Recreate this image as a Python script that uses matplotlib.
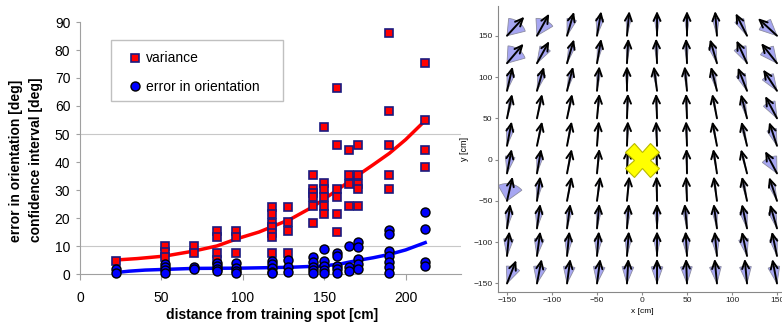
import numpy as np
import matplotlib
matplotlib.use("Agg")
import matplotlib.pyplot as plt
from matplotlib.patches import Wedge, Rectangle
from matplotlib.lines import Line2D

plt.rcParams['font.family'] = ['Liberation Sans', 'DejaVu Sans']

# %% left panel data
distances = [22, 52, 70, 84, 96, 118, 128, 143, 150, 158, 165, 171, 190, 212]

variance = [
    [4.5],
    [10.0, 7.8, 6.2],
    [10.0, 7.6],
    [15.2, 13.2, 7.4, 5.0],
    [15.2, 13.2, 7.4],
    [24.0, 21.4, 18.1, 16.7, 14.8, 13.3, 7.4],
    [24.0, 18.5, 15.5, 7.4],
    [35.4, 30.5, 28.8, 27.4, 24.3, 18.1],
    [52.4, 32.4, 30.4, 27.5, 24.2, 21.3],
    [66.3, 46.1, 30.2, 27.6, 21.3, 15.1],
    [44.3, 35.4, 32.2, 24.3],
    [46.1, 35.4, 32.2, 30.4, 24.3],
    [86.0, 58.3, 46.1, 35.4, 30.2],
    [75.2, 55.0, 44.3, 38.1],
]

orient_err = [
    [1.7, 0.4],
    [3.6, 2.5, 1.3, 0.3],
    [2.4, 1.8],
    [4.0, 3.0, 1.8, 1.0],
    [3.8, 2.2, 1.0, 0.3],
    [4.8, 3.6, 2.2, 0.8, 0.3],
    [5.0, 2.4, 0.8],
    [6.2, 4.4, 2.6, 1.4, 0.4],
    [8.8, 4.8, 3.0, 1.5, 0.2],
    [7.6, 6.4, 3.0, 1.8, 0.4],
    [10.0, 2.4, 1.2],
    [11.5, 9.5, 5.2, 3.6, 1.7],
    [15.7, 14.3, 8.3, 6.4, 4.4, 2.4, 0.3],
    [22.3, 16.0, 4.4, 2.9],
]

var_fit_x = [22, 35, 52, 70, 84, 97, 110, 118, 129, 143, 158, 171, 180, 190, 200, 212]
var_fit_y = [5.0, 5.5, 6.4, 8.2, 10.0, 12.7, 15.0, 16.9, 19.5, 24.0, 30.0, 35.4, 39.0, 43.1, 48.0, 54.8]

err_fit_x = [22, 30, 40, 55, 70, 100, 129, 150, 160, 170, 180, 190, 200, 212]
err_fit_y = [0.5, 1.0, 1.4, 1.7, 2.0, 2.1, 2.4, 2.9, 3.6, 4.8, 5.8, 7.0, 8.6, 11.2]

# %% right panel data: heading (deg from north, clockwise +) and half width of confidence sector
grid_x = [-150, -116.7, -83.3, -50, -16.7, 16.7, 50, 83.3, 116.7, 150]
grid_y = [150, 116.7, 83.3, 50, 16.7, -16.7, -50, -83.3, -116.7, -150]

heading = [
    [40, 27, 15, 9, 5, 0, 0, -4, -25, -45],
    [38, 27, 15, 9, 3, -2, -2, -15, -23, -36],
    [12, 15, 13, 5, 0, -7, -5, -13, -20, -31],
    [11, 11, 11, 5, 2, -2, -2, -10, -13, -26],
    [10, 11, 10, 4, 2, -2, -2, -10, -12, -17],
    [10, 9, 10, 5, 2, -1, -1, -8, -13, -26],
    [12, 7, 10, 7, 5, -1, -2, -7, -11, -17],
    [7, 7, 7, 5, 4, 0, -5, -7, -11, -15],
    [5, 7, 5, 4, 4, 0, -3, -5, -11, -11],
    [20, 10, 7, 7, 3, 0, -2, -5, -5, -10],
]

conf_half = [
    [35, 30, 15, 12, 8, 8, 7, 10, 15, 25],
    [35, 18, 10, 8, 6, 6, 6, 12, 20, 25],
    [12, 12, 8, 6, 5, 5, 5, 8, 15, 20],
    [5, 3, 3, 3, 3, 3, 3, 3, 8, 20],
    [12, 3, 3, 3, 3, 3, 3, 3, 5, 15],
    [15, 10, 3, 3, 3, 3, 3, 3, 3, 25],
    [40, 10, 3, 3, 3, 3, 3, 3, 5, 10],
    [12, 12, 8, 8, 8, 8, 8, 8, 12, 12],
    [15, 15, 12, 12, 10, 10, 12, 12, 15, 12],
    [22, 20, 18, 18, 18, 18, 18, 18, 18, 18],
]

goal = (0, 0)

W, H = 782, 327
fig = plt.figure(figsize=(W / 100, H / 100), dpi=100)

# %% left panel
ax = fig.add_axes([80 / W, 53 / H, (461 - 80) / W, 252 / H])
ax.set_xlim(0, 234)
ax.set_ylim(0, 90)
for spine in ['top', 'right']:
    ax.spines[spine].set_visible(False)
for spine in ['left', 'bottom']:
    ax.spines[spine].set_color('#a0a0a0')
ax.set_xticks([0, 50, 100, 150, 200])
ax.set_yticks(range(0, 91, 10))
ax.tick_params(axis='y', length=3, pad=4, color='#a0a0a0', labelsize=10)
ax.tick_params(axis='x', length=4, pad=8, color='#a0a0a0', labelsize=10)
for g in [10, 50]:
    ax.axhline(g, color='#c8c8c8', lw=0.8, zorder=0)

vx = [d for d, vals in zip(distances, variance) for _ in vals]
vy = [v for vals in variance for v in vals]
ex = [d for d, vals in zip(distances, orient_err) for _ in vals]
ey = [v for vals in orient_err for v in vals]

ax.plot(var_fit_x, var_fit_y, color='#ff0000', lw=2.5, zorder=2)
ax.plot(err_fit_x, err_fit_y, color='#0000ff', lw=2.5, zorder=2)
ax.plot(vx, vy, 's', ms=5.5, mfc='#ff0000', mec='#1a1a80', mew=1.2, zorder=3, clip_on=False)
ax.plot(ex, ey, 'o', ms=6.5, mfc='#0000ff', mec='#000000', mew=1.0, zorder=3, clip_on=False)

fig.text(16 / W, 1 - 161 / H, 'error in orientation [deg]', rotation=90,
         ha='center', va='center', fontsize=10, fontweight='bold')
fig.text(36 / W, 1 - 160 / H, 'confidence interval [deg]', rotation=90,
         ha='center', va='center', fontsize=10, fontweight='bold')
fig.text(272 / W, 1 - 315 / H, 'distance from training spot [cm]',
         ha='center', va='center', fontsize=10, fontweight='bold')

fig.patches.append(Rectangle((111 / W, 1 - 101 / H), 172 / W, 61 / H,
                             transform=fig.transFigure, fill=False,
                             ec='#c0c0c0', lw=1.0))
handles = [
    Line2D([], [], ls='none', marker='s', ms=5.5, mfc='#ff0000', mec='#1a1a80', mew=1.2),
    Line2D([], [], ls='none', marker='o', ms=6.5, mfc='#0000ff', mec='#000000', mew=1.0),
]
fig.legend(handles, ['variance', 'error in orientation'], loc='upper left',
           bbox_to_anchor=(129.7 / W, 1 - 51.4 / H), bbox_transform=fig.transFigure,
           frameon=False, borderpad=0, borderaxespad=0, handlelength=0.8,
           handletextpad=0.36, labelspacing=1.05, fontsize=10)

# %% right panel
ax2 = fig.add_axes([498 / W, 35.3 / H, 288 / W, 285.7 / H])
ax2.set_xlim(-160, 160)
ax2.set_ylim(-160, 186)
for spine in ['top', 'right']:
    ax2.spines[spine].set_visible(False)
for spine in ['left', 'bottom']:
    ax2.spines[spine].set_color('#888888')
    ax2.spines[spine].set_linewidth(0.8)
ax2.set_xticks(range(-150, 151, 50))
ax2.set_yticks(range(-150, 151, 50))
ax2.tick_params(length=2, pad=2, color='#888888', labelsize=6, labelcolor='#222222')
ax2.set_xlabel('x [cm]', fontsize=6, labelpad=3)
ax2.set_ylabel('y [cm]', fontsize=6.5, labelpad=3)

L = 30
R = 21
for i, y in enumerate(grid_y):
    for j, x in enumerate(grid_x):
        th = heading[i][j]
        hw = conf_half[i][j]
        a = 90 - th
        ax2.add_patch(Wedge((x, y), R, a - hw, a + hw, fc='#a6a6f2',
                            ec='#8c8ca0', lw=0.6, zorder=2))
        tip = (x + L * np.sin(np.radians(th)), y + L * np.cos(np.radians(th)))
        ax2.annotate('', xy=tip, xytext=(x, y),
                     arrowprops=dict(arrowstyle='->,head_length=0.55,head_width=0.25',
                                     color='k', lw=1.4, mutation_scale=10,
                                     shrinkA=0, shrinkB=0),
                     zorder=3)

ax2.plot(goal[0], goal[1], marker='X', ms=24, mfc='#ffff00', mec='#b8b800',
         mew=0.8, zorder=5)

fig.savefig('out.png', dpi=100)
